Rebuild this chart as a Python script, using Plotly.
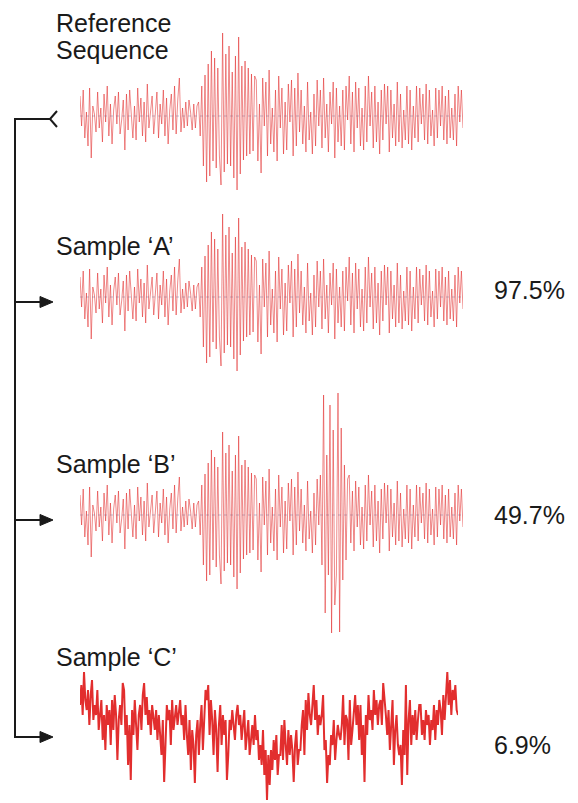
import plotly.graph_objects as go

W, H = 578, 803

# ---------------- data (amplitude in px-like units) -------------
REF_PRE = [20, -10, 26, -22, 4, -30, 28, -42, 10, 2,
           -16, 24, -12, 8, -26, 22, -6, 30, -20, 12,
           -28, 6, 20, -8, 24, -18, -4, 16, -34, 22,
           -14, 26, 2, -22, 10, -24, 28, -6, 18, -20,
           14, -26, 32, -12, 4, 20, -18, 6, 24, -22,
           12, -8, 26, -20, 18, -28, 6, 22, -14, 30,
           -18, 16, 38, -16, 8, -12, 14, -10, 16, 4,
           -14, 12, -12, 10, 14]
REF_BURST = [-20, 30, -50, 41, -66, 52, -60, 65, -45, 58,
             -52, 48, -40, -69, 83, -56, 62, -48, 70, -50,
             44, -62, 60, -74, 79, -58, 50, -44, 55, -40,
             48, -38, 42, -35, 40]
REF_POST = [36, -45, 12, -57, 38, -10, 34, -40, 46, -28,
            8, -36, 26, -45, 40, -12, 28, -38, 14, -34,
            32, -6, 36, -40, 28, -30, 43, -16, 26, -28,
            10, -36, 34, -24, 4, -38, 22, -30, 36, -10,
            26, -32, 38, -22, 12, -36, 24, -8, 34, -42,
            28, -26, 10, -30, 26, -34, 30, -4, 40, -28,
            24, -36, 34, -12, 28, -30, 8, -34, 30, -26,
            40, -10, 24, -32, 30, -26, 14, -38, 26, -24,
            32, -8, 30, -36, 26, -22, 12, -30, 34, -26,
            22, -32, 6, -24, 30, -28, 26, -34, 10, -22,
            30, -26, 28, -8, 22, -24, 32, -28, 26, -20,
            6, -30, 28, -22, 26, -10, 30, -24, 20, -28,
            26, -22, 8, -24, 22, -30, 30, -6, 26, -12]
REFERENCE = REF_PRE + REF_BURST + REF_POST
SAMPLE_A = list(REFERENCE)

B_BURST = [40, -50, 120, -98, 60, -60, 110, -118, 85, -90,
           -60, 122, -117, 87, -65, 50, -45, 36]
SAMPLE_B = REFERENCE[:150] + B_BURST + REFERENCE[168:]

SAMPLE_C = [30, 50, 20, 63, 35, 25, 45, 10, 40, 55, 15, 30, 20, 45, 5,
            25, 35, -5, 20, -15, 30, 10, 25, -10, 35, 5, 40, 20, -25, 15,
            30, 10, 52, 45, 0, 20, -30, 10, -45, 25, 0, 35, 15, -15, 20,
            30, 5, 40, 52, 20, 38, 10, 25, 0, 30, 15, 5, 25, -5, 20,
            0, -20, 15, -47, -10, 30, 15, 25, -10, 35, 5, 20, 30, 10, 25,
            35, 10, 20, -5, 30, 0, -20, 15, -35, 5, -10, -48, 0, 15, -20,
            10, 30, -15, 20, 45, 35, 50, 0, 35, 15, -20, 25, 5, -37, 10,
            30, -10, 20, 0, 15, -45, -20, 15, 5, 25, 10, -5, 20, 30, 10,
            20, -5, 10, 25, -15, 5, 15, -20, 0, 10, -10, 20, -5, 5, -25,
            -10, -30, 5, -40, -15, -65, -20, -50, -15, -35, -5, -25, 0, -40, -20,
            -20, 10, -25, 15, -10, -30, 5, -20, 0, -15, -47, -10, 5, -30, -15,
            -15, 10, 25, -20, 35, 5, 42, 20, 10, 30, 50, 15, 35, 0, 20,
            10, 20, 40, -15, -5, -48, -20, -30, 0, -10, 15, -25, -5, 10, 0,
            -5, 10, 40, -10, 20, 15, -25, 35, -10, 5, 25, 40, 10, 30, -5,
            30, -20, 10, -47, 20, 0, 40, 15, 25, 5, 45, 20, 35, 10, 30,
            35, 10, 52, 30, 20, 0, 25, -15, 10, 35, -30, 5, 20, -10, -20,
            -10, -50, 5, -20, 50, -40, 15, 35, -10, 20, 0, 25, -5, 15, 30,
            30, 0, 15, -5, 25, 10, 20, -10, 15, 5, 30, -5, 25, 10, 35,
            25, 0, 40, 15, 45, 63, 30, 55, 20, 45, 35, 50, 25, 20]

LABELS = ["Reference", "Sequence", "Sample \u2018A\u2019", "Sample \u2018B\u2019", "Sample \u2018C\u2019"]
SCORES = ["97.5%", "49.7%", "6.9%"]

# ---------------- helpers ------------------
def X(p):
    return p / W

def Y(p):
    return 1 - p / H

def ydom(zero_px, half):
    return [Y(zero_px + half), Y(zero_px - half)]

fig = go.Figure()

thin = dict(color="rgba(225,38,38,0.68)", width=0.8)
rows = [
    (REFERENCE, "x", "y", thin),
    (SAMPLE_A, "x2", "y2", thin),
    (SAMPLE_B, "x3", "y3", thin),
    (SAMPLE_C, "x4", "y4", dict(color="rgb(226,46,46)", width=2.0)),
]
for vals, xa, ya, ln in rows:
    fig.add_trace(go.Scatter(x=list(range(len(vals))), y=vals, mode="lines",
                             line=ln, xaxis=xa, yaxis=ya, hoverinfo="skip",
                             showlegend=False))

ax_common = dict(visible=False, fixedrange=True)
n = len(REFERENCE)
nc = len(SAMPLE_C)
fig.update_layout(
    width=W, height=H, margin=dict(l=0, r=0, t=0, b=0),
    paper_bgcolor="white", plot_bgcolor="rgba(0,0,0,0)",
    xaxis=dict(domain=[X(80), X(463)], range=[0, n - 1], **ax_common),
    xaxis2=dict(domain=[X(80), X(463)], range=[0, n - 1], **ax_common),
    xaxis3=dict(domain=[X(80), X(463)], range=[0, n - 1], **ax_common),
    xaxis4=dict(domain=[X(80), X(458)], range=[0, nc - 1], **ax_common),
    yaxis=dict(domain=ydom(116, 85), range=[-85, 85], **ax_common),
    yaxis2=dict(domain=ydom(297, 85), range=[-85, 85], **ax_common),
    yaxis3=dict(domain=ydom(515, 125), range=[-125, 125], **ax_common),
    yaxis4=dict(domain=ydom(735, 68), range=[-68, 68], **ax_common),
)

shapes = []
# faint zero lines
for xa, ya in [("x", "y"), ("x2", "y2"), ("x3", "y3")]:
    shapes.append(dict(type="line", xref=xa + " domain", yref=ya, x0=0, x1=1, y0=0, y1=0,
                       line=dict(color="rgba(160,185,215,0.8)", width=1, dash="dot"),
                       layer="below"))

blk = dict(color="#1a1a1a", width=2)
# bracket
shapes.append(dict(type="line", xref="paper", yref="paper", x0=X(15), x1=X(15),
                   y0=Y(118), y1=Y(738), line=blk))
shapes.append(dict(type="line", xref="paper", yref="paper", x0=X(15), x1=X(50),
                   y0=Y(119), y1=Y(119), line=blk))
shapes.append(dict(type="path", xref="paper", yref="paper",
                   path=f"M{X(57)},{Y(111)} L{X(50)},{Y(119)} L{X(57)},{Y(127)}",
                   line=blk))
for ay in [302, 520, 737]:
    shapes.append(dict(type="line", xref="paper", yref="paper", x0=X(15), x1=X(42),
                       y0=Y(ay), y1=Y(ay), line=blk))
    shapes.append(dict(type="path", xref="paper", yref="paper",
                       path=f"M{X(40)},{Y(ay - 5.5)} L{X(53)},{Y(ay)} L{X(40)},{Y(ay + 5.5)} Z",
                       fillcolor="#1a1a1a", line=dict(color="#1a1a1a", width=1)))
fig.update_layout(shapes=shapes)

font = dict(family="Liberation Sans, Arial, sans-serif", size=25, color="#1a1a1a")
label_pos = [(54, 22.5), (54, 49.5), (54, 245.5), (54, 463.5), (54, 656.5)]
score_pos = [(492, 289.5), (492, 514.5), (492, 744.5)]
ann = []
for t, (lx, ly) in zip(LABELS, label_pos):
    ann.append(dict(text=t, x=X(lx), y=Y(ly), xref="paper", yref="paper",
                    xanchor="left", yanchor="middle", showarrow=False, font=font))
for t, (lx, ly) in zip(SCORES, score_pos):
    ann.append(dict(text=t, x=X(lx), y=Y(ly), xref="paper", yref="paper",
                    xanchor="left", yanchor="middle", showarrow=False, font=font))
fig.update_layout(annotations=ann)

fig.write_html("out.html", config={"displayModeBar": False},
               post_script="document.body.style.margin='0';document.body.style.overflow='hidden';")
